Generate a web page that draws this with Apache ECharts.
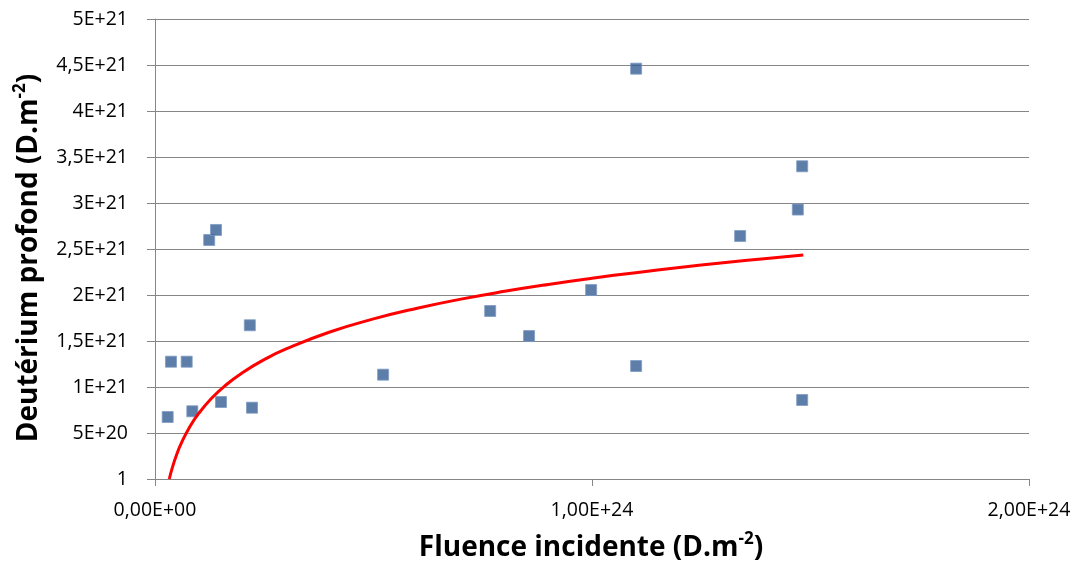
<!DOCTYPE html>
<html>
<head>
<meta charset="utf-8">
<script src="https://cdn.jsdelivr.net/npm/echarts@6/dist/echarts.min.js"></script>
<style>
html,body{margin:0;padding:0;background:#fff;}
#chart{width:1081px;height:570px;}
</style>
</head>
<body>
<div id="chart"></div>
<script>
// Measured points: fluence (D.m-2) and deep deuterium (D.m-2)
const fluence = [2.9e22, 3.66e22, 7.25e22, 8.54e22, 1.24e23, 1.396e23, 1.51e23, 2.17e23, 2.22e23,
  5.22e23, 7.67e23, 8.56e23, 9.98e23, 1.101e24, 1.101e24, 1.339e24, 1.471e24, 1.481e24, 1.481e24];
const deuterium = [6.74e20, 1.275e21, 1.275e21, 7.36e20, 2.598e21, 2.707e21, 8.37e20, 1.671e21, 7.75e20,
  1.134e21, 1.826e21, 1.554e21, 2.054e21, 4.46e21, 1.228e21, 2.641e21, 2.929e21, 3.399e21, 8.59e20];

// Logarithmic trendline, points
const trendX = [3.27e22, 4e22, 5e22, 6e22, 8e22, 1e23, 1.3e23, 1.6e23, 2e23, 2.5e23, 3e23, 4e23, 5e23,
  6e23, 7e23, 8e23, 9e23, 1e24, 1.1e24, 1.2e24, 1.3e24, 1.4e24, 1.4835e24];
const trendY = [0, 1.29e20, 2.71e20, 3.87e20, 5.71e20, 7.13e20, 8.80e20, 1.013e21, 1.155e21, 1.298e21,
  1.414e21, 1.598e21, 1.740e21, 1.856e21, 1.955e21, 2.040e21, 2.115e21, 2.182e21, 2.243e21, 2.299e21,
  2.350e21, 2.397e21, 2.435e21];

const yTickLabels = ['1', '5E+20', '1E+21', '1,5E+21', '2E+21', '2,5E+21', '3E+21', '3,5E+21', '4E+21', '4,5E+21', '5E+21'];
const xTickLabels = ['0,00E+00', '1,00E+24', '2,00E+24'];
const xTitle = 'Fluence incidente (D.m';
const yTitle = 'Deutérium profond (D.m';

const FONT = 'Open Sans';
const chart = echarts.init(document.getElementById('chart'));
const axisColor = '#868686';

const titleRich = {
  main: { fontFamily: FONT, fontSize: 28, fontWeight: 'bold', fill: '#000', lineHeight: 34 },
  sup: { fontFamily: FONT, fontSize: 17, fontWeight: 'bold', fill: '#000', verticalAlign: 'top', lineHeight: 34, padding: [0, 0, 10, 0] }
};

chart.setOption({
  animation: false,
  backgroundColor: '#ffffff',
  grid: { left: 155, right: 52, top: 19, bottom: 91, containLabel: false },
  xAxis: {
    type: 'value', min: 0, max: 2e24, interval: 1e24,
    axisLine: { show: true, lineStyle: { color: axisColor, width: 1 } },
    axisTick: { show: true, length: 7, lineStyle: { color: axisColor } },
    splitLine: { show: false },
    axisLabel: {
      margin: 21, fontFamily: FONT, fontSize: 19.5, color: '#000',
      formatter: function (v) { return xTickLabels[Math.round(v / 1e24)]; }
    }
  },
  yAxis: {
    type: 'value', min: 0, max: 5e21, interval: 5e20,
    axisLine: { show: true, lineStyle: { color: axisColor, width: 1 } },
    axisTick: { show: true, length: 8, lineStyle: { color: axisColor } },
    splitLine: { show: true, lineStyle: { color: axisColor, width: 1 } },
    axisLabel: {
      margin: 27, fontFamily: FONT, fontSize: 19.5, color: '#000',
      formatter: function (v) { return yTickLabels[Math.round(v / 5e20)]; }
    }
  },
  graphic: [
    {
      type: 'text', x: 591, y: 548,
      style: {
        text: '{main|' + xTitle + '}{sup|-2}{main|)}',
        align: 'center', verticalAlign: 'middle', rich: titleRich
      }
    },
    {
      type: 'text', x: 29, y: 258, rotation: Math.PI / 2,
      style: {
        text: '{main|' + yTitle + '}{sup|-2}{main|)}',
        align: 'center', verticalAlign: 'middle', rich: titleRich
      }
    }
  ],
  series: [
    {
      type: 'scatter',
      data: fluence.map((x, i) => [x, deuterium[i]]),
      symbol: 'rect', symbolSize: 11,
      itemStyle: { color: '#355e93', borderColor: '#7f9bc3', borderWidth: 1 },
      z: 3
    },
    {
      type: 'line',
      data: trendX.map((x, i) => [x, trendY[i]]),
      smooth: true, showSymbol: false, symbol: 'none',
      lineStyle: { color: '#ff0000', width: 3 },
      z: 4
    }
  ]
});
</script>
</body>
</html>
